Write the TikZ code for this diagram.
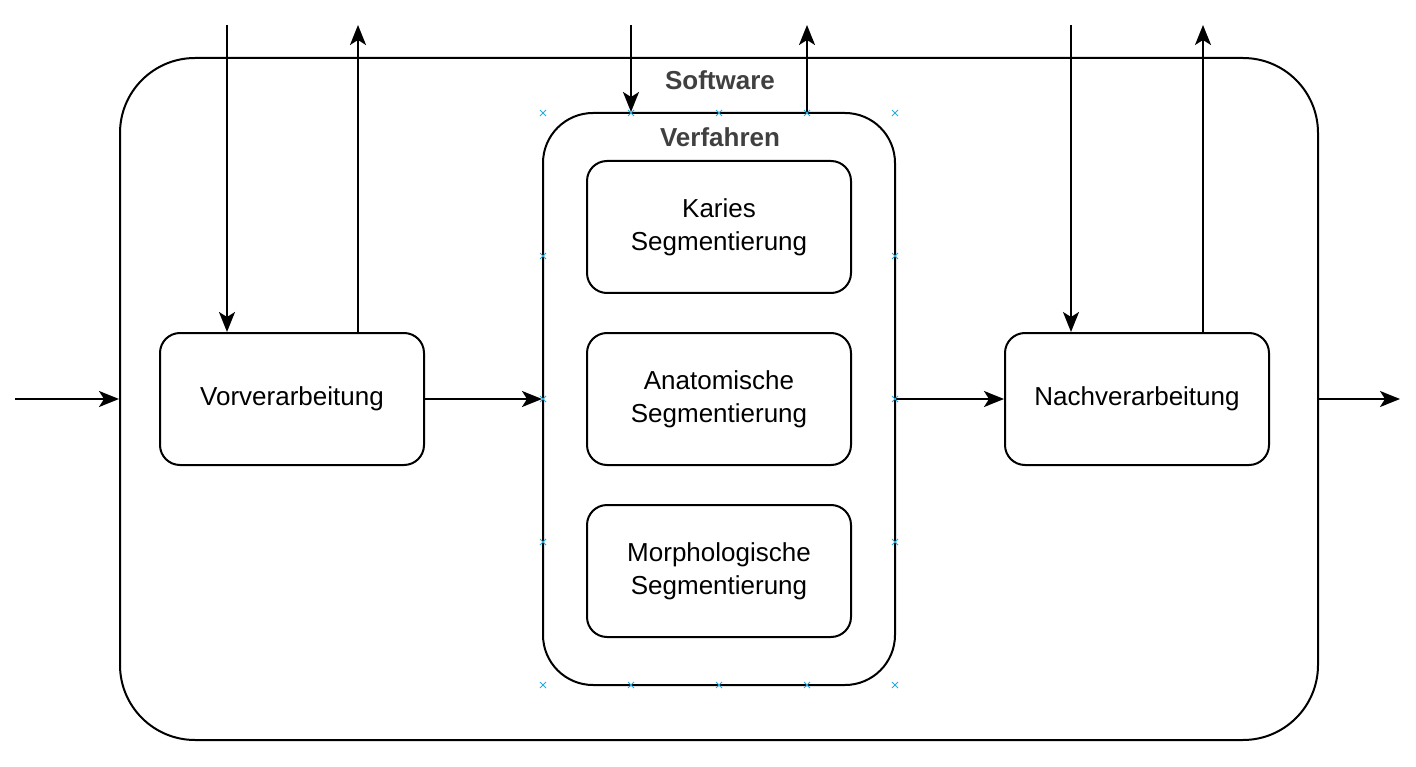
\documentclass[tikz,border=0pt]{standalone}
\usepackage{fontspec}
\setmainfont{Liberation Sans}
\usetikzlibrary{arrows.meta}
\definecolor{labelgray}{HTML}{404040}
\definecolor{markblue}{HTML}{29A9E1}
\tikzset{
  box/.style = {draw=black, line width=2pt, rounded corners=20pt, align=center,
    minimum width=264pt, minimum height=132pt, inner sep=0pt,
    font=\fontsize{26}{33}\selectfont},
  frame/.style = {draw=black, line width=2pt, inner sep=0pt},
  title/.style = {text=labelgray, font=\fontsize{26}{31}\selectfont\bfseries, inner sep=0pt},
  arr/.style = {line width=2pt, -{Stealth[length=20pt, width=16pt, inset=5pt]}},
  conn/.style = {line width=2pt},
  markx/.style = {draw=markblue, line width=1pt},
}

\begin{document}
\begin{tikzpicture}[x=1pt, y=-1pt]
  \useasboundingbox (0,0) rectangle (1416,767);
  % outer frame and process frame
  \node [frame, rounded corners=75pt, minimum width=1198pt, minimum height=682pt] (soft) at (719,399) {};
  \node [title] (softlabel) at (720,80) {Software};
  \node [frame, rounded corners=50pt, minimum width=352pt, minimum height=572pt] (verf) at (719,399) {};
  \node [title] (verflabel) at (720,137) {Verfahren};

  % boxes
  \node [box] (vor) at (292,399) {Vorverarbeitung};
  \node [box] (nach) at (1137,399) {Nachverarbeitung};
  \node [box] (karies) at (719,227) {Karies\\Segmentierung};
  \node [box] (anat) at (719,399) {Anatomische\\Segmentierung};
  \node [box] (morph) at (719,571) {Morphologische\\Segmentierung};

  % free ends
  \coordinate (in) at (15,399);
  \coordinate (out) at (1400,399);
  \coordinate (vortop) at (227,25);
  \coordinate (vorup) at (358,25);
  \coordinate (verftop) at (631,25);
  \coordinate (verfup) at (807,25);
  \coordinate (nachtop) at (1071,25);
  \coordinate (nachup) at (1203,25);

  % horizontal flow
  \draw [arr] (in) -- (soft.west);
  \draw [arr] (vor.east) -- (verf.west);
  \draw [arr] (verf.east) -- (nach.west);
  \draw [arr] (soft.east) -- (out);

  % vertical connections
  \draw [arr] (vortop) -- (vortop |- vor.north);
  \draw [arr] (vorup |- vor.north) -- (vorup);
  \draw [arr] (verftop) -- (verftop |- verf.north);
  \draw [arr] (verfup |- verf.north) -- (verfup);
  \draw [arr] (nachtop) -- (nachtop |- nach.north);
  \draw [arr] (nachup |- nach.north) -- (nachup);

  % connection marks of the process frame
  \foreach \x in {543,631,719,807,895}
    \foreach \y in {113,685}
      \draw [markx] (\x-3,\y-3) -- (\x+3,\y+3) (\x-3,\y+3) -- (\x+3,\y-3);
  \foreach \x in {543,895}
    \foreach \y in {256,399,542}
      \draw [markx] (\x-3,\y-3) -- (\x+3,\y+3) (\x-3,\y+3) -- (\x+3,\y-3);
\end{tikzpicture}
\end{document}
